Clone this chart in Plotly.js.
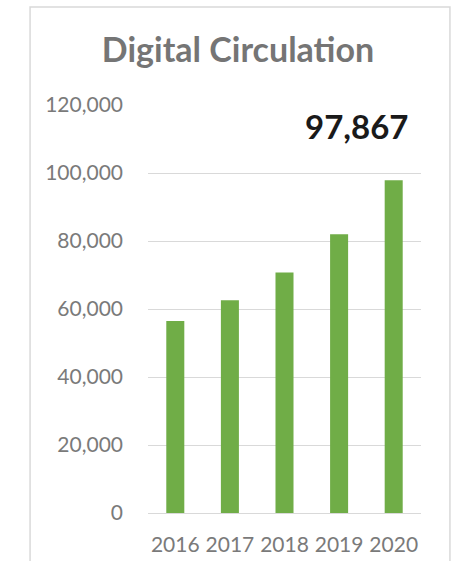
<!DOCTYPE html>
<html>
<head>
<meta charset="utf-8">
<script src="https://cdn.plot.ly/plotly-3.0.1.min.js"></script>
<style>
  body { margin: 0; background: #fff; }
  #chart { width: 464px; height: 561px; }
</style>
</head>
<body>
<div id="chart"></div>
<script>
// Digital circulation per year
const years = ['2016', '2017', '2018', '2019', '2020'];
const circulation = [56500, 62600, 70700, 82000, 97867];
const yTicks = [0, 20000, 40000, 60000, 80000, 100000, 120000];

const labelFont = {family: 'Lato, sans-serif', size: 21, color: '#7a7a7a'};

const trace = {
    type: 'bar',
    x: years,
    y: circulation,
    marker: {color: '#70ad47'},
    hoverinfo: 'x+y'
};

const layout = {
    width: 464,
    height: 561,
    margin: {l: 148, r: 43, t: 105, b: 48},
    paper_bgcolor: '#ffffff',
    plot_bgcolor: '#ffffff',
    bargap: 0.67,
    showlegend: false,
    title: {
        text: 'Digital Circulation',
        font: {family: 'Lato, sans-serif', size: 34, color: '#757575', weight: 'bold'},
        xref: 'container', x: 0.513,
        yref: 'container', y: 0.911, yanchor: 'middle'
    },
    xaxis: {
        type: 'category',
        showgrid: false,
        showline: false,
        zeroline: false,
        ticks: '',
        ticklabelstandoff: 17,
        tickfont: labelFont
    },
    yaxis: {
        range: [0, 120000],
        tickvals: yTicks,
        tickformat: ',d',
        showgrid: true,
        gridcolor: '#d9d9d9',
        gridwidth: 1,
        zeroline: true,
        zerolinecolor: '#d9d9d9',
        zerolinewidth: 1,
        showline: false,
        ticks: '',
        ticklabelstandoff: 24,
        tickfont: labelFont
    },
    annotations: [{
        text: '97,867',
        xref: 'paper', x: 0.762,
        yref: 'paper', y: 0.948,
        xanchor: 'center', yanchor: 'middle',
        showarrow: false,
        font: {family: 'Lato, sans-serif', size: 33, color: '#1a1a1a', weight: 'bold'}
    }],
    shapes: [{
        type: 'rect',
        xref: 'paper', yref: 'paper',
        x0: -0.432, x1: 1.106, y0: -0.14, y1: 1.240,
        line: {color: '#d9d9d9', width: 1.5},
        layer: 'below'
    }]
};

Plotly.newPlot('chart', [trace], layout, {displayModeBar: false, staticPlot: true});
</script>
</body>
</html>
